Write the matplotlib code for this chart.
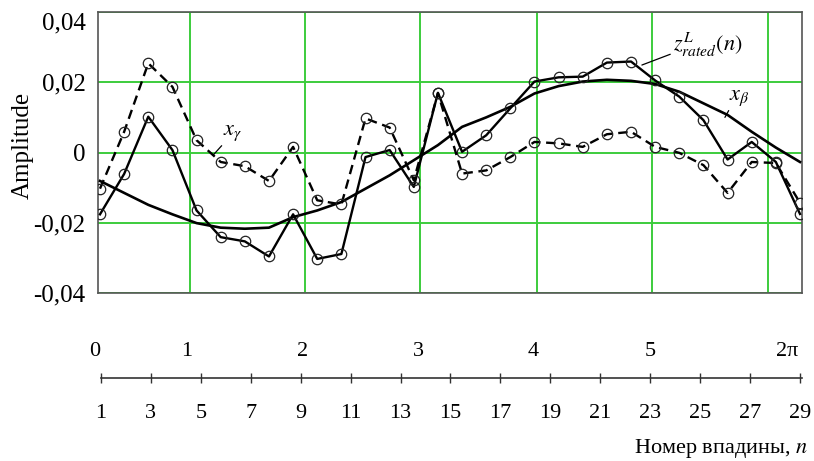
import matplotlib
matplotlib.use("Agg")
import matplotlib.pyplot as plt
import matplotlib.transforms as mtransforms
import numpy as np

plt.rcParams["font.family"] = ["Liberation Serif", "DejaVu Serif"]
plt.rcParams["mathtext.fontset"] = "stix"

# 30 samples over one revolution (index k = 0..29)
z_rated = [-0.0176, -0.0061, 0.0102, 0.0007, -0.0165, -0.0241, -0.0253, -0.0296,
           -0.0176, -0.0303, -0.0289, -0.0013, 0.0007, -0.0098, 0.0170, 0.0002,
           0.0049, 0.0126, 0.0202, 0.0214, 0.0216, 0.0256, 0.0259, 0.0205,
           0.0159, 0.0092, -0.0020, 0.0030, -0.0027, -0.0175]
x_gamma = [-0.0103, 0.0059, 0.0254, 0.0187, 0.0035, -0.0027, -0.0039, -0.0081,
           0.0016, -0.0136, -0.0148, 0.0097, 0.0071, -0.0079, 0.0169, -0.0060,
           -0.0051, -0.0013, 0.0030, 0.0026, 0.0016, 0.0052, 0.0059, 0.0016,
           -0.0001, -0.0036, -0.0115, -0.0027, -0.0030, -0.0143]
x_beta = [-0.0081, -0.0115, -0.0149, -0.0176, -0.0201, -0.0214, -0.0217, -0.0214,
          -0.0184, -0.0165, -0.0141, -0.0103, -0.0065, -0.0022, 0.0021, 0.0073,
          0.0100, 0.0130, 0.0168, 0.0189, 0.0202, 0.0207, 0.0204, 0.0195,
          0.0173, 0.0140, 0.0107, 0.0059, 0.0014, -0.0027]

yticks = [-0.04, -0.02, 0.0, 0.02, 0.04]
ytick_labels = ["-0,04", "-0,02", "0", "0,02", "0,04"]
grid_k = [3.73, 8.49, 13.26, 18.10, 22.87, 27.67]

n_ticks = list(range(1, 30, 2))
angle_labels = ["0", "1", "2", "3", "4", "5", "2π"]
angle_pos = [0.76, 4.45, 9.09, 13.70, 18.31, 23.0, 28.48]

W, H = 814, 461
fig = plt.figure(figsize=(W / 100, H / 100), dpi=100)
ax = fig.add_axes([98 / W, 1 - 293 / H, 704 / W, 281 / H])

k = np.arange(len(z_rated))
green = "#3ccc3c"

ax.plot(k, x_beta, color="black", lw=1.9, zorder=3)
ax.plot(k, z_rated, color="black", lw=1.7, marker="o", ms=7.5, mfc="none",
        mec="#222222", mew=0.9, zorder=4)
ax.plot(k, x_gamma, color="black", lw=1.7, ls=(0, (4, 2.4)), marker="o", ms=7.5,
        mfc="none", mec="#222222", mew=0.9, zorder=4)

ax.set_xlim(-2 / 24.14, 29 + 2 / 24.14)
ax.set_ylim(-0.04, 0.04)
ax.set_xticks(grid_k)
ax.set_yticks(yticks)
ax.set_yticklabels(ytick_labels)
ax.tick_params(axis="x", length=0, labelbottom=False)
ax.tick_params(axis="y", length=0, pad=9, labelsize=18)
ax.get_yticklabels()[-1].set_va("top")
ax.grid(True, color=green, lw=1.4, zorder=1)
for s in ax.spines.values():
    s.set_color("#555555")
    s.set_linewidth(1.2)

lead = dict(arrowstyle="-", lw=0.9, color="black", shrinkA=0, shrinkB=0)
ax.annotate(r"$x_{\gamma}$", xy=(4.68, -0.0008), xytext=(5.5, 0.0055),
            fontsize=16, ha="center", va="center",
            arrowprops=dict(lead, relpos=(0.1, 0.05)), zorder=5)
ax.annotate(r"$z^{L}_{rated}\left(n\right)$", xy=(22.45, 0.0249), xytext=(23.74, 0.0307),
            fontsize=16, ha="left", va="center",
            arrowprops=dict(lead, relpos=(0.0, 0.2)), zorder=5)
ax.annotate(r"$x_{\beta}$", xy=(25.89, 0.0100), xytext=(26.47, 0.0155),
            fontsize=16, ha="center", va="center",
            arrowprops=dict(lead, relpos=(0.1, 0.05)), zorder=5)

fig.text(23 / W, 1 - 145 / H, "Amplitude", rotation=90, fontsize=18,
         ha="center", va="center")

# separate scale below: trough number n and angle in radians
axn = fig.add_axes([101 / W, 1 - 378 / H, 701 / W, 0.0001])
axn.set_xlim(1, 1 + 701 / 24.96)
axn.set_yticks([])
for side in ("left", "right", "top"):
    axn.spines[side].set_visible(False)
axn.spines["bottom"].set_color("#333333")
axn.spines["bottom"].set_linewidth(1.2)
axn.set_xticks(n_ticks)
axn.set_xticklabels([str(v) for v in n_ticks])
axn.tick_params(axis="x", direction="inout", length=7, width=1, pad=15,
                labelsize=16, color="#333333")

tr = mtransforms.blended_transform_factory(axn.transData, fig.transFigure)
for lab, pos in zip(angle_labels, angle_pos):
    axn.text(pos, 1 - 352 / H, lab, transform=tr, fontsize=16,
             ha="center", va="center")

fig.text(808 / W, 1 - 448 / H, "Номер впадины, $n$", fontsize=16,
         ha="right", va="center")

fig.savefig("out.png", dpi=100)
